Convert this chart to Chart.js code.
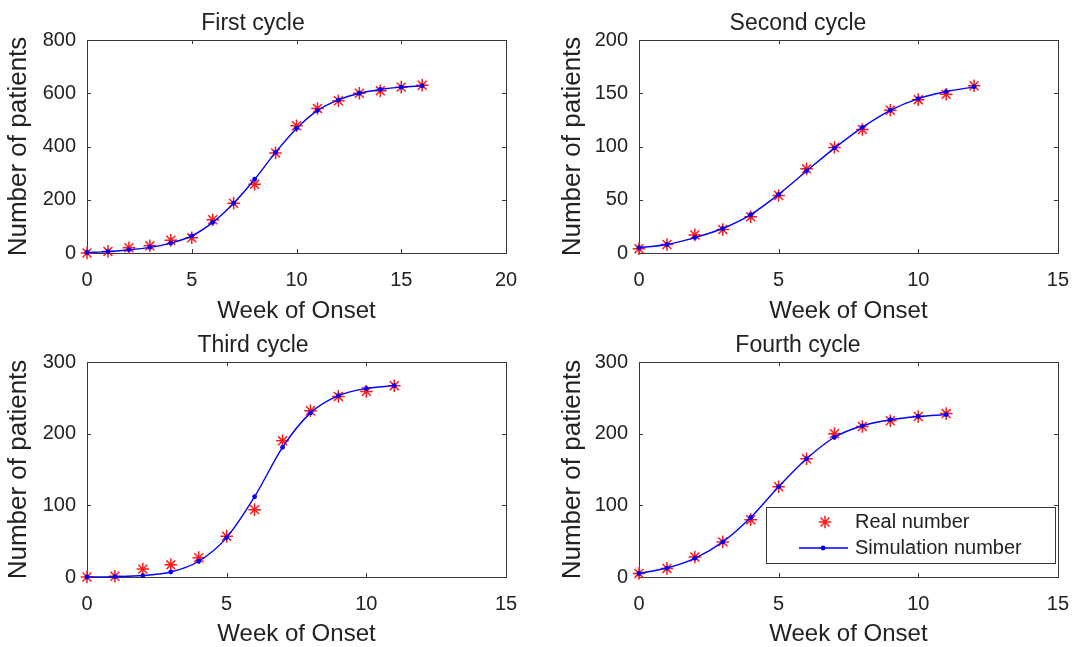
<!DOCTYPE html>
<html>
<head>
<meta charset="utf-8">
<title>Cycles</title>
<script src="https://cdn.jsdelivr.net/npm/chart.js@4.4.1/dist/chart.umd.min.js"></script>
<style>
  html, body { margin: 0; padding: 0; background: #fff; overflow: hidden; }
  body { width: 1076px; height: 647px; position: relative; }
  .panel { position: absolute; }
</style>
</head>
<body>
<div class="panel" style="left:0;top:0;width:538px;height:330px"><canvas id="c1"></canvas></div>
<div class="panel" style="left:538px;top:0;width:546px;height:330px"><canvas id="c2"></canvas></div>
<div class="panel" style="left:0;top:322px;width:538px;height:325px"><canvas id="c3"></canvas></div>
<div class="panel" style="left:538px;top:322px;width:546px;height:325px"><canvas id="c4"></canvas></div>
<script>
// values
const weeksFirst = [0, 1, 2, 3, 4, 5, 6, 7, 8, 9, 10, 11, 12, 13, 14, 15, 16];
const realFirst = [0, 6, 20, 27, 48, 57, 125, 187, 258, 376, 478, 543, 572, 600, 609, 623, 630];
const simFirst = [2, 5, 12, 21, 37, 64, 115, 187, 277, 378, 468, 535, 575, 600, 614, 623, 628];

const weeksSecond = [0, 1, 2, 3, 4, 5, 6, 7, 8, 9, 10, 11, 12];
const realSecond = [4, 8, 17, 22, 34, 54, 79, 99, 116, 134, 144, 149, 157];
const simSecond = [5, 8, 14.5, 23, 36, 55, 77, 98.5, 118, 134, 145, 151.5, 156];

const weeksThird = [0, 1, 2, 3, 4, 5, 6, 7, 8, 9, 10, 11];
const realThird = [0, 1, 11, 17, 27, 57, 94, 190, 232, 252, 259, 267];
const simThird = [0, 0.5, 2, 7, 22, 55, 112, 181, 229, 253, 263, 267];

const weeksFourth = [0, 1, 2, 3, 4, 5, 6, 7, 8, 9, 10, 11];
const realFourth = [5, 12, 28, 49, 80, 126, 165, 200, 210, 218, 224, 228];
const simFourth = [5, 12.5, 26, 49, 83, 126, 165, 195, 211, 219.5, 224, 226.5];

const xLabel = "Week of Onset";
const yLabel = "Number of patients";
const realLabel = "Real number";
const simLabel = "Simulation number";

const FONT = "'Liberation Sans', Arial, Helvetica, sans-serif";
const INK = "#222222";
const FRAME = "#383838";

// box round the plot plus short inward ticks on all four sides (matlab look)
const frameTicks = {
    id: "frameTicks",
    beforeDatasetsDraw(chart) {
        const a = chart.chartArea;
        const ctx = chart.ctx;
        const xs = chart.scales.x;
        const ys = chart.scales.y;
        const len = 4;
        ctx.save();
        ctx.strokeStyle = FRAME;
        ctx.lineWidth = 1;
        ctx.strokeRect(Math.round(a.left) + 0.5, Math.round(a.top) + 0.5,
            Math.round(a.right - a.left), Math.round(a.bottom - a.top));
        ctx.beginPath();
        xs.ticks.forEach((t) => {
            const px = Math.round(xs.getPixelForValue(t.value)) + 0.5;
            ctx.moveTo(px, a.bottom); ctx.lineTo(px, a.bottom - len);
            ctx.moveTo(px, a.top); ctx.lineTo(px, a.top + len);
        });
        ys.ticks.forEach((t) => {
            const py = Math.round(ys.getPixelForValue(t.value)) + 0.5;
            ctx.moveTo(a.left, py); ctx.lineTo(a.left + len, py);
            ctx.moveTo(a.right, py); ctx.lineTo(a.right - len, py);
        });
        ctx.stroke();
        ctx.restore();
    },
};

// legend box sitting inside the plot, bottom right (fourth panel only)
const legendBox = {
    id: "legendBox",
    afterDraw(chart) {
        const a = chart.chartArea;
        const ctx = chart.ctx;
        const w = 289, h = 56;
        const x = Math.round(a.right - 3 - w);
        const y = Math.round(a.bottom - 14 - h);
        const real = chart.data.datasets.find((d) => d.label === realLabel);
        const sim = chart.data.datasets.find((d) => d.label === simLabel);
        ctx.save();
        ctx.fillStyle = "#ffffff";
        ctx.fillRect(x, y, w, h);
        ctx.strokeStyle = FRAME;
        ctx.lineWidth = 1;
        ctx.strokeRect(x + 0.5, y + 0.5, w, h);

        ctx.strokeStyle = real.borderColor;
        ctx.fillStyle = real.borderColor;
        ctx.lineWidth = real.pointBorderWidth;
        Chart.helpers.drawPoint(ctx, { pointStyle: "star", radius: real.pointRadius, rotation: 0, borderWidth: real.pointBorderWidth }, x + 59, y + 15);

        ctx.strokeStyle = sim.borderColor;
        ctx.lineWidth = sim.borderWidth;
        ctx.beginPath();
        ctx.moveTo(x + 33, y + 41);
        ctx.lineTo(x + 82, y + 41);
        ctx.stroke();
        ctx.fillStyle = sim.pointBackgroundColor;
        ctx.beginPath();
        ctx.arc(x + 57, y + 41, sim.pointRadius, 0, Math.PI * 2);
        ctx.fill();

        ctx.fillStyle = INK;
        ctx.font = "20px " + FONT;
        ctx.textBaseline = "middle";
        ctx.textAlign = "left";
        ctx.fillText(real.label, x + 89, y + 15);
        ctx.fillText(sim.label, x + 89, y + 41);
        ctx.restore();
    },
};

function toPoints(weeks, values) {
    return weeks.map((w, i) => ({ x: w, y: values[i] }));
}

function makePanel(canvasId, p) {
    const canvas = document.getElementById(canvasId);
    if (!canvas) {
        return;
    }
    return new Chart(canvas, {
        type: "line",
        data: {
            datasets: [
                {
                    label: simLabel,
                    data: toPoints(p.weeks, p.sim),
                    borderColor: "#0000ff",
                    borderWidth: 1.4,
                    pointRadius: 2.4,
                    pointBackgroundColor: "#0000ff",
                    pointBorderColor: "#0000ff",
                    pointBorderWidth: 0,
                    cubicInterpolationMode: "monotone",
                    order: 0,
                    clip: false,
                },
                {
                    label: realLabel,
                    data: toPoints(p.weeks, p.real),
                    showLine: false,
                    pointStyle: "star",
                    pointRadius: 6.3,
                    borderColor: "#ff1a1a",
                    backgroundColor: "#ff1a1a",
                    pointBorderWidth: 1.5,
                    order: 1,
                    clip: false,
                },
            ],
        },
        options: {
            responsive: true,
            maintainAspectRatio: false,
            animation: false,
            layout: {
                padding: { left: 0, right: p.padRight, top: 0, bottom: 0 },
            },
            scales: {
                x: {
                    type: "linear",
                    min: 0,
                    max: p.xMax,
                    afterFit: (s) => { s.height = p.xHeight; },
                    grid: { display: false, drawTicks: false },
                    border: { display: false },
                    ticks: {
                        stepSize: 5,
                        padding: 15,
                        color: INK,
                        font: { family: FONT, size: 20 },
                        maxRotation: 0,
                    },
                    title: {
                        display: true,
                        text: xLabel,
                        color: INK,
                        font: { family: FONT, size: 24 },
                        padding: { top: 0, bottom: p.xTitlePad },
                    },
                },
                y: {
                    min: 0,
                    max: p.yMax,
                    afterFit: (s) => { s.width = p.yWidth; },
                    grid: { display: false, drawTicks: false },
                    border: { display: false },
                    ticks: {
                        stepSize: p.yStep,
                        padding: 11,
                        color: INK,
                        font: { family: FONT, size: 20 },
                    },
                    title: {
                        display: true,
                        text: yLabel,
                        color: INK,
                        font: { family: FONT, size: 26 },
                        padding: { top: p.yTitlePad, bottom: 0 },
                    },
                },
            },
            plugins: {
                legend: { display: false },
                tooltip: { enabled: false },
                title: {
                    display: true,
                    text: p.title,
                    color: INK,
                    font: { family: FONT, size: 23, weight: "normal" },
                    padding: { top: p.titleTop, bottom: p.titleBottom },
                },
            },
        },
        plugins: p.legend ? [frameTicks, legendBox] : [frameTicks],
    });
}

makePanel("c1", {
    title: "First cycle", weeks: weeksFirst, real: realFirst, sim: simFirst,
    xMax: 20, yMax: 800, yStep: 200,
    yWidth: 87, padRight: 32, xHeight: 77, xTitlePad: 4.6, yTitlePad: 3.4,
    titleTop: 9.5, titleBottom: 2.9,
});
makePanel("c2", {
    title: "Second cycle", weeks: weeksSecond, real: realSecond, sim: simSecond,
    xMax: 15, yMax: 200, yStep: 50,
    yWidth: 101, padRight: 26, xHeight: 77, xTitlePad: 4.6, yTitlePad: 19.4,
    titleTop: 9.5, titleBottom: 2.9,
});
makePanel("c3", {
    title: "Third cycle", weeks: weeksThird, real: realThird, sim: simThird,
    xMax: 15, yMax: 300, yStep: 100,
    yWidth: 87, padRight: 32, xHeight: 70, xTitlePad: -1.4, yTitlePad: 3.4,
    titleTop: 10, titleBottom: 2.4,
});
makePanel("c4", {
    title: "Fourth cycle", weeks: weeksFourth, real: realFourth, sim: simFourth,
    xMax: 15, yMax: 300, yStep: 100,
    yWidth: 101, padRight: 26, xHeight: 70, xTitlePad: -1.4, yTitlePad: 19.4,
    titleTop: 10, titleBottom: 2.4, legend: true,
});
</script>
</body>
</html>
